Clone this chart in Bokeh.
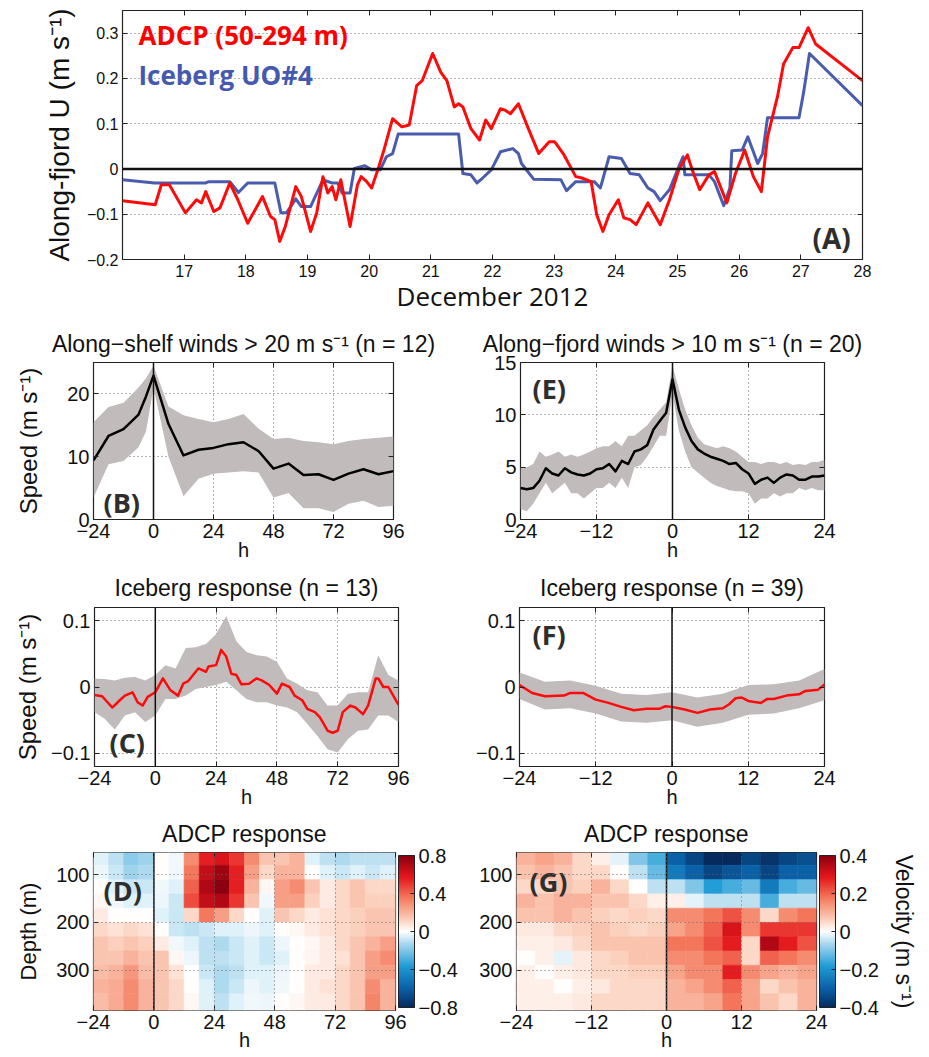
import math
import numpy as np
from bokeh.plotting import figure
from bokeh.layouts import column, row
from bokeh.models import (Range1d, FixedTicker, LinearAxis, Span, Label, ColorBar,
                          LinearColorMapper, ColumnDataSource, CustomJSTickFormatter)
from bokeh.transform import transform
from bokeh.embed import file_html
from bokeh.resources import INLINE

# ---------------- DATA ----------------
# Panel A: December 2012 (day of month), along-fjord velocity (m/s)
ADCP_day = [16.0,16.53,16.63,16.76,17.02,17.2,17.28,17.35,17.48,17.58,
            17.74,17.87,18.03,18.27,18.4,18.47,18.55,18.64,18.81,18.9,
            19.05,19.15,19.25,19.33,19.4,19.46,19.54,19.69,19.81,19.87,
            19.96,20.04,20.14,20.24,20.38,20.53,20.65,20.77,20.86,21.03,
            21.16,21.26,21.38,21.45,21.52,21.65,21.79,21.89,21.98,22.13,
            22.2,22.29,22.42,22.57,22.75,22.92,23.01,23.16,23.35,23.45,
            23.6,23.69,23.79,23.89,24.04,24.13,24.23,24.33,24.52,24.72,
            24.87,25.02,25.16,25.26,25.36,25.51,25.6,25.8,25.94,26.09,
            26.23,26.36,26.46,26.62,26.72,26.87,26.97,27.12,27.24,28.0]
ADCP_u = [-0.070,-0.079,-0.035,-0.035,-0.097,-0.068,-0.075,-0.050,-0.094,-0.086,
          -0.031,-0.068,-0.120,-0.061,-0.105,-0.112,-0.160,-0.127,-0.039,-0.061,
          -0.138,-0.097,-0.017,-0.053,-0.039,-0.068,-0.024,-0.127,-0.035,-0.017,
          -0.028,-0.042,-0.002,0.042,0.111,0.093,0.097,0.184,0.195,0.255,
          0.214,0.195,0.137,0.144,0.137,0.089,0.064,0.108,0.089,0.133,
          0.130,0.122,0.144,0.093,0.034,0.060,0.060,0.031,-0.017,-0.020,
          -0.028,-0.101,-0.138,-0.101,-0.068,-0.108,-0.112,-0.123,-0.075,-0.123,
          -0.068,-0.002,0.031,-0.010,-0.046,-0.013,-0.006,-0.075,-0.010,0.042,
          -0.017,-0.050,0.071,0.159,0.232,0.268,0.268,0.312,0.276,0.195]
ICE_day = [16.0,16.52,17.35,17.4,17.74,17.88,18.03,18.47,18.57,18.66,
           18.81,18.9,19.05,19.25,19.4,19.49,19.56,19.69,19.76,19.93,
           20.04,20.18,20.28,20.38,20.47,21.45,21.52,21.65,21.75,21.84,
           21.98,22.13,22.33,22.42,22.47,22.67,23.11,23.2,23.35,23.65,
           23.75,23.89,24.09,24.23,24.38,24.52,24.62,24.72,24.87,25.02,
           25.09,25.12,25.51,25.6,25.75,25.85,25.88,26.05,26.14,26.23,
           26.3,26.38,26.46,26.97,27.05,27.14,28.0]
ICE_u = [-0.024,-0.031,-0.031,-0.028,-0.028,-0.052,-0.031,-0.031,-0.097,-0.097,
         -0.066,-0.083,-0.083,-0.024,-0.031,-0.031,-0.053,-0.053,0.001,0.007,
         -0.002,-0.002,0.027,0.034,0.077,0.077,-0.010,-0.013,-0.031,-0.020,
         -0.002,0.038,0.045,0.034,0.012,-0.023,-0.024,-0.048,-0.028,-0.028,
         -0.042,0.027,0.023,-0.010,-0.013,-0.042,-0.050,-0.070,-0.046,0.005,
         0.027,-0.013,-0.013,-0.028,-0.081,-0.042,0.040,0.042,0.071,0.038,
         0.012,0.034,0.113,0.113,0.173,0.255,0.140]

# Panel B: along-shelf wind speed composite (m/s)
B_h = [-24,-18,-12,-6,-3,0,6,12,18,24,30,36,42,48,54,60,66,72,78,84,90,96]
B_mean = [9.4,13.3,14.4,16.7,19.6,22.9,15.2,10.2,11.1,11.4,12.0,12.3,10.9,8.1,8.9,7.1,7.2,6.3,7.3,8.0,7.2,7.7]
B_hi = [15.5,17.9,18.6,21.0,22.5,24.5,18.0,16.6,16.0,15.5,16.0,16.8,14.5,12.8,13.0,12.5,12.3,12.0,12.5,12.8,13.0,13.2]
B_lo = [3.5,8.8,9.3,11.5,14.0,21.0,10.0,3.7,6.5,7.3,7.5,7.7,7.5,3.5,4.2,1.8,1.8,1.2,2.5,3.0,2.0,2.2]

# Panel E: along-fjord wind speed composite (m/s), hourly
E_h = list(range(-24, 25))
E_mean = [3.0,2.9,3.0,3.7,4.9,4.4,4.2,4.9,4.5,4.3,4.2,4.4,4.8,4.9,5.3,4.6,5.6,5.3,6.5,6.7,
          7.1,8.6,9.4,10.2,13.4,10.5,8.8,7.5,6.7,6.3,6.0,5.8,5.6,5.3,5.4,4.8,4.4,3.4,3.8,4.0,
          3.5,4.0,4.3,4.2,3.8,3.8,4.1,4.1,4.2]
E_hi = [5.0,5.0,5.3,6.5,6.0,6.2,6.5,6.0,6.2,6.0,6.2,6.5,6.8,7.0,7.0,7.5,7.0,8.0,8.0,8.5,
        9.0,9.8,10.5,11.2,14.7,12.5,10.5,9.0,7.8,7.2,7.0,6.8,7.0,6.8,6.5,6.0,5.5,5.5,5.3,5.5,
        5.5,5.3,5.5,5.2,5.3,5.2,5.5,5.5,5.7]
E_lo = [1.0,0.8,1.5,2.5,3.5,2.5,3.0,3.5,2.5,2.5,2.0,2.5,3.0,3.0,3.5,3.0,4.0,3.0,5.0,5.2,
        6.0,7.0,8.0,8.0,12.0,8.5,6.5,5.0,4.5,4.0,3.5,3.2,3.0,2.8,2.7,2.7,2.5,1.5,2.0,2.0,
        2.5,2.2,2.5,2.5,3.0,2.8,3.0,2.8,2.8]

# Panel C: iceberg response (m/s)
C_h = [-24,-21,-17,-14,-12,-9,-7,-5,-3,0,3,6,9,11,13,17,20,21,24,26,28,30,32,34,37,
       40,42,45,48,50,53,55,58,60,63,65,68,70,72,74,77,79,82,84,87,88,90,92,96]
C_mean = [-0.012,-0.014,-0.031,-0.020,-0.013,-0.008,-0.023,-0.028,-0.015,-0.008,
          0.013,-0.005,-0.013,0.005,0.009,0.028,0.023,0.031,0.033,0.056,
          0.046,0.020,0.018,0.004,0.005,0.013,0.010,0.003,-0.010,0.005,
          0.000,-0.013,-0.020,-0.033,-0.038,-0.046,-0.066,-0.069,-0.066,-0.038,
          -0.028,-0.031,-0.041,-0.028,0.013,0.013,0.000,0.000,-0.027]
C_band_h = [-24,-20,-16,-12,-8,-4,0,4,8,12,16,20,24,28,32,36,40,44,48,52,56,60,64,68,72,76,80,84,88,92,96]
C_hi = [0.013,0.012,0.010,0.014,0.015,0.010,0.018,0.033,0.028,0.059,0.060,0.065,0.080,0.107,0.069,0.053,
        0.048,0.046,0.038,0.013,0.005,-0.005,-0.008,-0.028,-0.028,-0.010,-0.008,-0.008,0.048,0.018,0.010]
C_lo = [-0.038,-0.048,-0.064,-0.043,-0.038,-0.053,-0.043,-0.018,-0.018,-0.013,-0.003,0.000,0.003,0.008,-0.005,-0.018,
        -0.023,-0.023,-0.028,-0.031,-0.038,-0.056,-0.074,-0.094,-0.099,-0.079,-0.066,-0.064,-0.043,-0.043,-0.053]

# Panel F: iceberg response (m/s)
F_h = [-24,-22,-20,-17,-16,-14,-12,-10,-8,-6,-4,-2,-1,0,2,4,6,8,9,10,11,12,14,15,16,18,20,21,23,24]
F_mean = [0.003,-0.009,-0.014,-0.013,-0.009,-0.009,-0.019,-0.024,-0.030,-0.035,
          -0.033,-0.033,-0.029,-0.030,-0.034,-0.039,-0.034,-0.032,-0.026,-0.017,
          -0.016,-0.021,-0.024,-0.018,-0.018,-0.013,-0.011,-0.006,-0.004,0.004]
F_band_h = [-24,-20,-16,-12,-8,-4,0,4,8,12,16,20,24]
F_hi = [0.022,0.008,0.010,0.002,-0.010,-0.012,-0.008,-0.016,-0.010,0.003,0.004,0.010,0.027]
F_lo = [-0.018,-0.034,-0.032,-0.040,-0.052,-0.054,-0.050,-0.060,-0.054,-0.042,-0.040,-0.032,-0.020]

# Panels D and G: ADCP response, depth bins (m)
DEPTH_EDGES = [53,80,110,140,170,200,230,260,290,320,350,385]
D_cols = [-21,-15,-9,-3,3,9,15,21,27,33,39,45,51,57,63,69,75,81,87,93]
D_U = [
    [-0.05,-0.10,-0.18,-0.15,0.00,-0.02,0.30,0.55,0.60,0.50,0.30,0.15,0.15,0.20,-0.05,-0.10,-0.12,-0.10,-0.10,-0.10],
    [-0.03,-0.08,-0.15,-0.12,0.00,-0.02,0.35,0.65,0.75,0.55,0.25,0.10,0.20,0.20,0.00,-0.05,-0.08,-0.05,-0.08,-0.05],
    [0.00,-0.05,-0.08,-0.08,-0.02,-0.05,0.40,0.70,0.80,0.55,0.20,0.02,0.25,0.30,0.15,0.05,0.10,0.15,0.10,0.10],
    [0.02,-0.02,-0.05,-0.05,-0.03,-0.08,0.45,0.65,0.70,0.50,0.15,-0.02,0.25,0.25,0.12,0.05,0.10,0.15,0.12,0.12],
    [0.05,0.00,0.00,0.00,-0.05,-0.08,0.10,0.35,0.25,0.10,0.00,-0.05,0.15,0.10,0.05,0.08,0.10,0.12,0.15,0.15],
    [0.10,0.08,0.10,0.08,0.00,-0.08,-0.10,-0.08,-0.05,-0.05,-0.03,-0.05,0.00,0.02,0.05,0.08,0.10,0.12,0.15,0.15],
    [0.15,0.12,0.15,0.12,0.05,-0.02,-0.05,-0.10,-0.12,-0.08,-0.05,-0.08,-0.03,0.00,0.02,0.05,0.10,0.15,0.20,0.25],
    [0.15,0.15,0.20,0.15,0.15,0.02,-0.03,-0.10,-0.10,-0.08,-0.05,-0.08,-0.05,0.00,0.03,0.05,0.08,0.15,0.25,0.30],
    [0.18,0.20,0.28,0.18,0.15,0.08,0.00,-0.08,-0.12,-0.10,-0.05,-0.05,-0.03,0.00,0.05,0.05,0.10,0.15,0.25,0.25],
    [0.20,0.22,0.30,0.20,0.15,0.10,0.00,-0.05,-0.12,-0.08,-0.03,-0.05,-0.02,0.00,0.05,0.08,0.10,0.15,0.30,0.20],
    [0.18,0.22,0.30,0.20,0.15,0.10,0.02,-0.05,-0.10,-0.05,-0.02,-0.03,0.00,0.02,0.05,0.05,0.10,0.15,0.32,0.20],
]
G_cols = [-22.5,-19.5,-16.5,-13.5,-10.5,-7.5,-4.5,-1.5,1.5,4.5,7.5,10.5,13.5,16.5,19.5,22.5]
G_U = [
    [0.10,0.12,0.10,0.05,0.02,-0.02,-0.10,-0.15,-0.30,-0.35,-0.40,-0.40,-0.35,-0.38,-0.35,-0.33],
    [0.08,0.10,0.08,0.05,0.05,0.00,-0.05,-0.12,-0.25,-0.30,-0.35,-0.32,-0.30,-0.35,-0.30,-0.30],
    [0.05,0.05,0.08,0.06,0.10,0.05,0.00,-0.05,-0.05,-0.10,-0.18,-0.15,-0.12,-0.25,-0.15,-0.12],
    [0.10,0.08,0.10,0.10,0.08,0.08,0.05,0.02,0.02,-0.02,-0.05,-0.05,-0.05,-0.15,-0.05,-0.05],
    [0.08,0.08,0.10,0.08,0.06,0.05,0.06,0.05,0.15,0.15,0.18,0.22,0.15,0.05,0.15,0.18],
    [0.03,0.03,0.05,0.06,0.08,0.06,0.05,0.06,0.12,0.15,0.20,0.30,0.15,0.25,0.25,0.25],
    [0.02,0.02,0.03,0.05,0.08,0.08,0.08,0.08,0.18,0.18,0.22,0.28,0.05,0.35,0.28,0.22],
    [0.00,0.02,-0.02,0.03,0.05,0.06,0.08,0.08,0.15,0.15,0.18,0.20,0.05,0.20,0.18,0.15],
    [0.02,0.00,0.02,0.03,0.05,0.05,0.06,0.06,0.12,0.15,0.15,0.28,0.15,0.12,0.10,0.12],
    [0.02,0.02,0.00,0.02,0.03,0.05,0.05,0.05,0.10,0.12,0.15,0.20,0.12,0.05,0.08,0.10],
    [0.02,0.02,0.02,0.03,0.05,0.05,0.05,0.05,0.10,0.10,0.12,0.18,0.12,0.08,0.05,0.10],
]

# ---------------- STYLE ----------------
FONT = "Liberation Sans"
BFONT = "Open Sans"
RED = "#ff0a0a"
BLUE = "#4a5cad"
BAND = "#c1bbbb"
GRIDC = "#666666"
LETTER = "#2e2e2e"
TXT = "#111111"

FMT_JS = """
if (Math.abs(tick) < 1e-9) { return '0'; }
const s = Math.abs(tick).toFixed(nd);
return tick < 0 ? '\u2212' + s : s;
"""

def fmt(nd):
    return CustomJSTickFormatter(args=dict(nd=nd), code=FMT_JS)

# red-white-blue palette (blue low, red high)
_stops = [0.0, 0.12, 0.27, 0.42, 0.5, 0.58, 0.72, 0.86, 1.0]
_cols = ["#062a5c", "#0a5fa6", "#1e9bd6", "#a9d8ee", "#ffffff", "#fbcfbb", "#f47a5d", "#e4161b", "#8a0010"]
def _hex2rgb(h):
    return [int(h[i:i + 2], 16) for i in (1, 3, 5)]
_rgb = np.array([_hex2rgb(c) for c in _cols], dtype=float)
_t = np.linspace(0, 1, 256)
PAL = ["#%02x%02x%02x" % tuple(int(round(np.interp(tt, _stops, _rgb[:, k]))) for k in range(3)) for tt in _t]


def style_axis(ax, fs, standoff):
    ax.axis_line_color = None
    ax.major_tick_in = 5
    ax.major_tick_out = 0
    ax.minor_tick_line_color = None
    ax.major_tick_line_color = "#222222"
    ax.major_label_text_font = FONT
    ax.major_label_text_font_size = f"{fs}px"
    ax.major_label_text_color = TXT
    ax.major_label_standoff = standoff
    ax.axis_label_text_font = FONT
    ax.axis_label_text_font_style = "normal"
    ax.axis_label_text_color = TXT


def set_label(ax, text, size, standoff, font=FONT):
    ax.axis_label = text
    ax.axis_label_text_font = font
    ax.axis_label_text_font_size = f"{size}px"
    ax.axis_label_standoff = standoff


def mirror(p, ticks, side):
    a = LinearAxis(ticker=FixedTicker(ticks=ticks), formatter=CustomJSTickFormatter(code="return '';"),
                   axis_line_color=None, major_tick_in=5, major_tick_out=0,
                   major_tick_line_color="#222222", minor_tick_line_color=None,
                   major_label_standoff=0, major_label_text_font_size="1px")
    p.add_layout(a, side)


FRAMES = {}


def panel(w, h, bl, br, bt, bb, xr, yr, xt, yt, xnd, ynd, fs, title=None, right_mirror=True,
          xso=4, yso=4, tso=11):
    p = figure(width=w, height=h, x_range=Range1d(*xr), y_range=Range1d(*yr),
               output_backend="svg", toolbar_location=None, tools="",
               min_border_left=bl, min_border_right=br, min_border_top=bt, min_border_bottom=bb,
               title=title)
    FRAMES[id(p)] = (w - bl - br, h - bt - bb)
    p.outline_line_color = "#222222"
    p.outline_line_width = 1.2
    xa = p.below[0]
    ya = p.left[0]
    xa.ticker = FixedTicker(ticks=xt)
    xa.formatter = fmt(xnd)
    ya.ticker = FixedTicker(ticks=yt)
    ya.formatter = fmt(ynd)
    style_axis(xa, fs, xso)
    style_axis(ya, fs, yso)
    p.grid.grid_line_color = GRIDC
    p.grid.grid_line_dash = "1 3"
    p.grid.grid_line_width = 1
    mirror(p, xt, "above")
    if right_mirror:
        mirror(p, yt, "right")
    if title is not None:
        p.title.align = "center"
        p.title.text_font = FONT
        p.title.text_font_size = "23px"
        p.title.text_font_style = "normal"
        p.title.text_color = TXT
        p.title.standoff = tso
    return p, xa, ya


def flabel(p, fx, fy, text, size, font=BFONT, bold=True, color=LETTER):
    """Text inside the frame at a pixel offset (fx right, fy up) from the frame's bottom-left corner."""
    fw, fh = FRAMES[id(p)]
    x0, x1 = p.x_range.start, p.x_range.end
    y0, y1 = p.y_range.start, p.y_range.end
    p.add_layout(Label(x=x0 + fx / fw * (x1 - x0), y=y0 + fy / fh * (y1 - y0), text=text,
                       text_font=font, text_font_style="bold" if bold else "normal",
                       text_font_size=f"{size}px", text_color=color, text_align="left",
                       text_baseline="alphabetic"))


def zero_v(p):
    p.add_layout(Span(location=0, dimension="height", line_color="#111111", line_width=1.5))


# ---------------- PANEL A ----------------
pa, xa, ya = panel(929, 316, 122, 67, 10, 57, (16, 28), (-0.2, 0.35),
                   [17, 18, 19, 20, 21, 22, 23, 24, 25, 26, 27, 28],
                   [-0.2, -0.1, 0, 0.1, 0.2, 0.3], 0, 1, 16, xso=5, yso=4)
pa.xgrid.visible = False
set_label(ya, "Along-fjord U (m s\u207b\u00b9)", 28, 9)
set_label(xa, "December 2012", 26, -2, font=BFONT)
pa.add_layout(Span(location=0, dimension="width", line_color="#111111", line_width=2.5))
pa.line(ICE_day, ICE_u, line_color=BLUE, line_width=3, line_join="round")
pa.line(ADCP_day, ADCP_u, line_color=RED, line_width=3, line_join="round")
flabel(pa, 16, 225, "ADCP (50-294 m)", 26, color="#ff0000")
flabel(pa, 16, 185, "Iceberg UO#4", 26, color="#4659b0")
flabel(pa, 690, 22, "(A)", 28)

# ---------------- PANEL B ----------------
pb, xa, ya = panel(465, 250, 93, 72, 46, 47, (-24, 96), (0, 25), [-24, 0, 24, 48, 72, 96], [0, 10, 20], 0, 0, 20,
                   title="Along\u2212shelf winds > 20 m s\u207b\u00b9 (n = 12)", tso=12)
set_label(ya, "Speed (m s\u207b\u00b9)", 24, 22)
set_label(xa, "h", 20, -2)
pb.varea(x=B_h, y1=B_lo, y2=B_hi, fill_color=BAND)
zero_v(pb)
pb.line(B_h, B_mean, line_color="black", line_width=2.5, line_join="round")
flabel(pb, 10, 17, "(B)", 27)

# ---------------- PANEL E ----------------
pe, xa, ya = panel(464, 250, 55, 105, 46, 47, (-24, 24), (0, 15), [-24, -12, 0, 12, 24], [0, 5, 10, 15], 0, 0, 20,
                   title="Along\u2212fjord winds > 10 m s\u207b\u00b9 (n = 20)", tso=12)
set_label(xa, "h", 20, -2)
pe.varea(x=E_h, y1=E_lo, y2=E_hi, fill_color=BAND)
zero_v(pe)
pe.line(E_h, E_mean, line_color="black", line_width=2.5, line_join="round")
flabel(pe, 12, 131, "(E)", 27)

# ---------------- PANEL C ----------------
pc, xa, ya = panel(465, 247, 94, 67, 41, 47, (-24, 96), (-0.12, 0.12), [-24, 0, 24, 48, 72, 96], [-0.1, 0, 0.1], 0, 1, 20,
                   title="Iceberg response (n = 13)", tso=13)
set_label(ya, "Speed (m s\u207b\u00b9)", 24, 7)
set_label(xa, "h", 20, -2)
pc.varea(x=C_band_h, y1=C_lo, y2=C_hi, fill_color=BAND)
zero_v(pc)
pc.line(C_h, C_mean, line_color=RED, line_width=2.5, line_join="round")
flabel(pc, 15, 24, "(C)", 27)

# ---------------- PANEL F ----------------
pf, xa, ya = panel(464, 247, 54, 105, 41, 47, (-24, 24), (-0.12, 0.12), [-24, -12, 0, 12, 24], [-0.1, 0, 0.1], 0, 1, 20,
                   title="Iceberg response (n = 39)", tso=13)
set_label(xa, "h", 20, -2)
pf.varea(x=F_band_h, y1=F_lo, y2=F_hi, fill_color=BAND)
zero_v(pf)
pf.line(F_h, F_mean, line_color=RED, line_width=2.5, line_join="round")
flabel(pf, 13, 132, "(F)", 27)


# ---------------- PANELS D, G ----------------
def heat_source(cols, cw, edges, grid):
    xs, ys, ws, hs, vs = [], [], [], [], []
    for i, rv in enumerate(grid):
        y0, y1 = edges[i], edges[i + 1]
        for j, v in enumerate(rv):
            xs.append(cols[j]); ys.append((y0 + y1) / 2); ws.append(cw); hs.append(y1 - y0); vs.append(v)
    return ColumnDataSource(dict(x=xs, y=ys, w=ws, h=hs, v=vs))


def colorbar(p, lim, ticks):
    m = LinearColorMapper(palette=PAL, low=-lim, high=lim)
    cb = ColorBar(color_mapper=m, ticker=FixedTicker(ticks=ticks), formatter=fmt(1),
                  width=16, padding=3, margin=0, label_standoff=4,
                  major_label_text_font=FONT, major_label_text_font_size="20px",
                  major_label_text_color=TXT,
                  bar_line_color="#222222", major_tick_line_color="#222222",
                  major_tick_in=4, major_tick_out=0, minor_tick_line_color=None,
                  border_line_color=None, background_fill_alpha=0)
    p.add_layout(cb, "right")
    return m


pd_, xa, ya = panel(465, 243, 93, 70, 39, 46, (-24, 96), (385, 53), [-24, 0, 24, 48, 72, 96], [100, 200, 300], 0, 0, 20,
                    title="ADCP response", right_mirror=False, tso=11)
set_label(ya, "Depth (m)", 22, 12)
set_label(xa, "h", 20, -3)
mD = colorbar(pd_, 0.8, [-0.8, -0.4, 0, 0.4, 0.8])
pd_.rect(x="x", y="y", width="w", height="h", source=heat_source(D_cols, 6, DEPTH_EDGES, D_U),
         fill_color=transform("v", mD), line_color=transform("v", mD), line_width=0.6)
pd_.grid.level = "overlay"
zero_v(pd_)
flabel(pd_, 10, 120, "(D)", 27)

pg, xa, ya = panel(464, 243, 51, 113, 39, 46, (-24, 24), (385, 53), [-24, -12, 0, 12, 24], [100, 200, 300], 0, 0, 20,
                   title="ADCP response", right_mirror=False, tso=11)
set_label(xa, "h", 20, -3)
mG = colorbar(pg, 0.4, [-0.4, -0.2, 0, 0.2, 0.4])
vax = LinearAxis(ticker=FixedTicker(ticks=[]), axis_line_color=None, major_tick_line_color=None,
                 minor_tick_line_color=None, major_label_standoff=0, major_label_text_font_size="1px")
set_label(vax, "Velocity (m s\u207b\u00b9)", 23, 6)
vax.axis_label_text_font_style = "normal"
vax.axis_label_text_color = TXT
pg.add_layout(vax, "right")
pg.rect(x="x", y="y", width="w", height="h", source=heat_source(G_cols, 3, DEPTH_EDGES, G_U),
        fill_color=transform("v", mG), line_color=transform("v", mG), line_width=0.6)
pg.grid.level = "overlay"
zero_v(pg)
flabel(pg, 13, 129, "(G)", 27)

layout = column(pa, row(pb, pe), row(pc, pf), row(pd_, pg))
open("out.html", "w").write(file_html(layout, INLINE, title="Iceberg response"))
